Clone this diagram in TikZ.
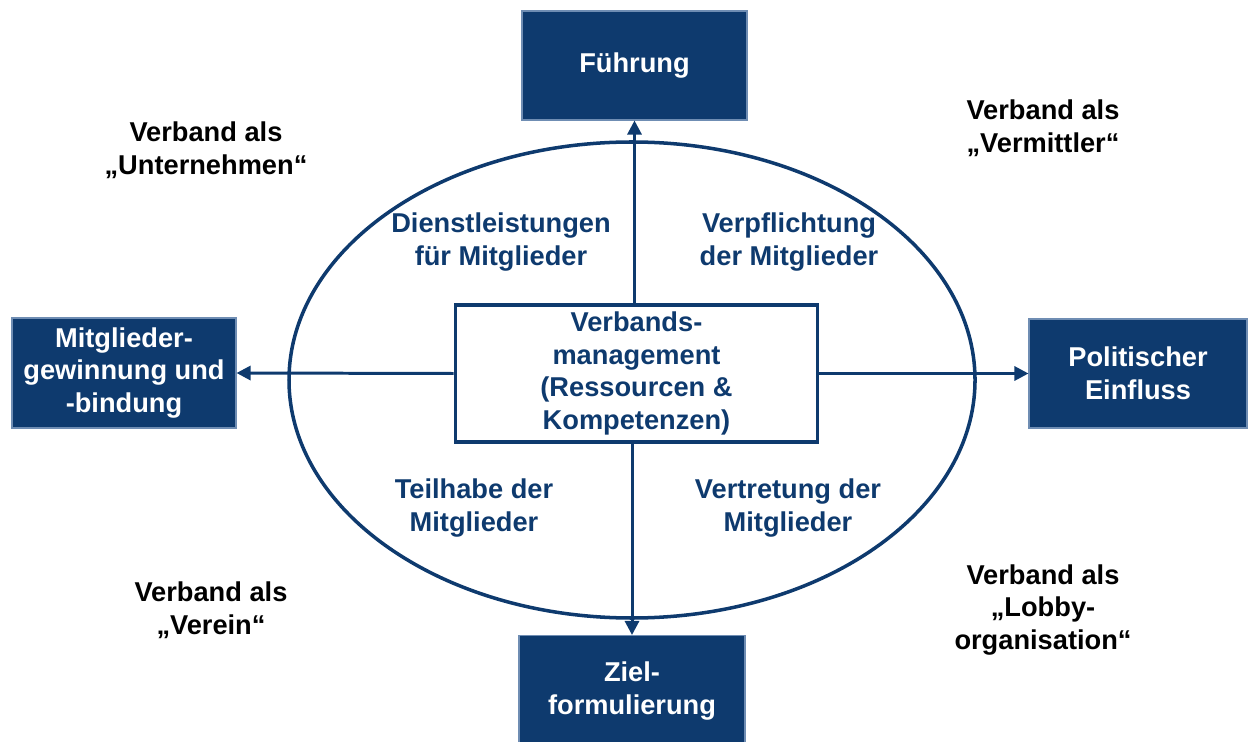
\documentclass[tikz,border=0pt]{standalone}
\usepackage{fontspec}
\setmainfont{Liberation Sans}
\usetikzlibrary{arrows.meta}
\definecolor{navy}{HTML}{0E3A6E}
\definecolor{navyedge}{HTML}{6F8DB3}
\begin{document}
\begin{tikzpicture}[x=0.02cm,y=-0.02cm,
  every node/.style={font=\fontsize{15.5}{18.7}\selectfont\bfseries, align=center, inner sep=0pt},
  darkbox/.style={draw=navyedge, line width=0.6pt, fill=navy, text=white},
  conn/.style={draw=navy, line width=1.7pt, -{Triangle[length=8pt,width=8pt]}},
  inner/.style={text=navy},
  outer/.style={text=black}]
\useasboundingbox (0,0) rectangle (1256,742);
\begin{scope}
\clip (0,0) rectangle (1256,742);
\draw[navy, line width=2pt] (632,380) ellipse [x radius=343, y radius=238];
\node[darkbox, minimum width=225*0.02cm, minimum height=109*0.02cm] (fu) at (634.5,65.5) {Führung};
\node[darkbox, minimum width=224*0.02cm, minimum height=110*0.02cm] (mg) at (124,373) {Mitglieder-\\gewinnung und\\-bindung};
\node[darkbox, minimum width=218*0.02cm, minimum height=109*0.02cm] (pe) at (1138,373.5) {Politischer\\Einfluss};
\node[darkbox, minimum width=226*0.02cm, minimum height=115*0.02cm, anchor=north] (zf) at (632,635) {\rule{0pt}{0pt}};
\node[text=white] (zft) at (632,691) {Ziel-\\formulierung};
\node[draw=navy, line width=2.2pt, fill=white, text=navy, minimum width=362*0.02cm, minimum height=137*0.02cm] (vm) at (636.5,373.5) {Verbands-\\management\\(Ressourcen \&\\Kompetenzen)};
\draw[conn] (vm.north -| fu.south) -- (fu.south);
\draw[conn] (vm.south -| zf.north) -- (zf.north);
\draw[conn] (vm.west) -- (mg.east);
\draw[conn] (vm.east) -- (pe.west);
\end{scope}
\node[outer] (u) at (206,150) {Verband als\\„Unternehmen“};
\node[outer] (v) at (1043,128) {Verband als\\„Vermittler“};
\node[outer] (ve) at (211,610) {Verband als\\„Verein“};
\node[outer] (lo) at (1043,610) {Verband als\\„Lobby-\\organisation“};
\node[inner] (d) at (501,242) {Dienstleistungen\\für Mitglieder};
\node[inner] (vp) at (789,242) {Verpflichtung\\der Mitglieder};
\node[inner] (t) at (474,508) {Teilhabe der\\Mitglieder};
\node[inner] (vt) at (788,508) {Vertretung der\\Mitglieder};
\end{tikzpicture}
\end{document}
